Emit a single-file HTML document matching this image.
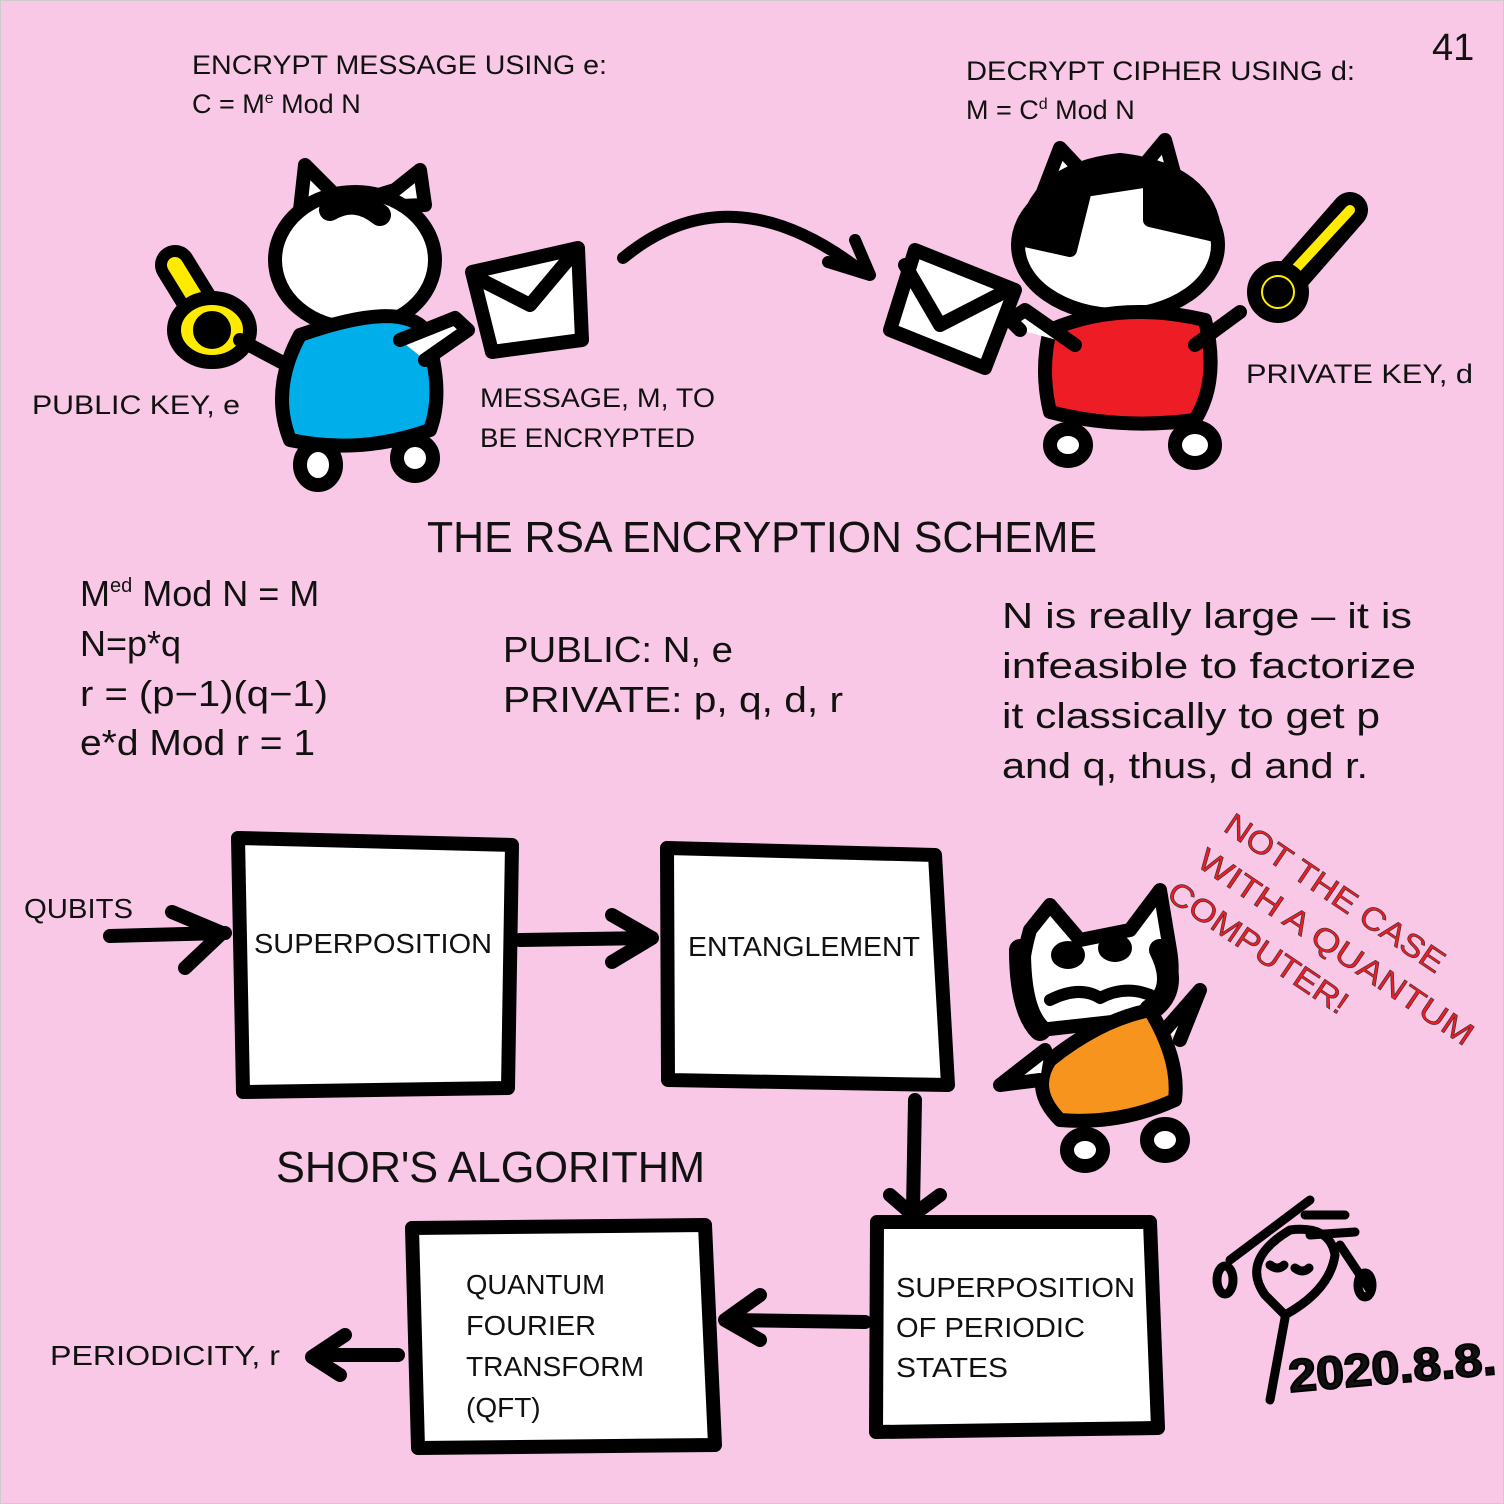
<!DOCTYPE html>
<html><head><meta charset="utf-8"><style>
html,body{margin:0;padding:0;background:#f8c8e6}
svg{display:block}
text{font-family:"Liberation Sans",sans-serif;fill:#111}
</style></head><body>
<svg width="1504" height="1504" viewBox="0 0 1504 1504" xmlns="http://www.w3.org/2000/svg">
<rect x="0" y="0" width="1504" height="1504" fill="#f8c8e6" stroke="#ccc" stroke-width="2"/>
<text x="1432" y="60" font-size="38">41</text>

<text x="192" y="74" font-size="27" textLength="415" lengthAdjust="spacingAndGlyphs">ENCRYPT MESSAGE USING e:</text>
<text x="192" y="113" font-size="27">C = M<tspan font-size="16" dy="-10">e</tspan><tspan dy="10"> Mod N</tspan></text>
<text x="966" y="80" font-size="27" textLength="389" lengthAdjust="spacingAndGlyphs">DECRYPT CIPHER USING d:</text>
<text x="966" y="119" font-size="27">M = C<tspan font-size="16" dy="-10">d</tspan><tspan dy="10"> Mod N</tspan></text>
<text x="32" y="414" font-size="27" textLength="208" lengthAdjust="spacingAndGlyphs">PUBLIC KEY, e</text>
<text x="480" y="407" font-size="27" textLength="235" lengthAdjust="spacingAndGlyphs">MESSAGE, M, TO</text>
<text x="480" y="447" font-size="27" textLength="215" lengthAdjust="spacingAndGlyphs">BE ENCRYPTED</text>
<text x="1246" y="383" font-size="27" textLength="227" lengthAdjust="spacingAndGlyphs">PRIVATE KEY, d</text>

<g stroke="#000" stroke-width="14" stroke-linecap="round" stroke-linejoin="round">
<path d="M175 265 L215 330" stroke-width="40"/>
<path d="M175 265 L215 330" stroke="#ffeb00" stroke-width="16"/>
<ellipse cx="212" cy="330" rx="38" ry="32" fill="#ffeb00"/>
<circle cx="212" cy="330" r="12" fill="#000"/>
<path d="M240 340 L300 372" />
<path d="M300 210 L305 165 L345 205 L395 190 L420 170 L425 205 Z" fill="#fff"/>
<ellipse cx="355" cy="260" rx="80" ry="68" fill="#fff"/>
<path d="M330 210 Q355 195 380 215" stroke-width="22"/>
<path d="M300 335 Q400 300 425 330 Q445 390 430 430 Q360 455 290 440 Q270 390 300 335 Z" fill="#00aeea"/>
<path d="M400 340 L455 318 L468 330 L425 360" fill="#fff"/>
<ellipse cx="318" cy="465" rx="18" ry="20" fill="#fff"/>
<ellipse cx="415" cy="458" rx="18" ry="18" fill="#fff"/>
<path d="M472 272 L578 248 L582 340 L492 352 Z" fill="#fff"/>
<path d="M485 282 L530 305 L572 255" fill="none"/>
<path d="M623 258 Q730 170 860 270" fill="none" stroke-width="12"/>
<path d="M828 262 L870 275 L855 240" fill="none" stroke-width="12"/>
<path d="M890 330 L915 250 L1015 290 L985 368 Z" fill="#fff"/>
<path d="M905 265 L940 325 L1008 290" fill="none"/>
<path d="M1040 200 L1060 148 L1090 180 L1140 170 L1165 140 L1180 195 Z" fill="#fff"/>
<ellipse cx="1118" cy="245" rx="100" ry="70" fill="#fff"/>
<path d="M1025 240 Q1030 170 1120 160 Q1210 170 1215 235 L1150 220 L1150 180 L1085 190 L1070 250 Z" fill="#000"/>
<path d="M1050 330 Q1120 300 1205 320 Q1220 380 1195 420 Q1120 430 1050 412 Q1040 370 1050 330 Z" fill="#ee1c24"/>
<path d="M1020 330 L1010 320 L1025 310 L1075 345" fill="#fff"/>
<path d="M1195 345 L1240 312" />
<ellipse cx="1068" cy="445" rx="18" ry="16" fill="#fff"/>
<ellipse cx="1195" cy="445" rx="20" ry="18" fill="#fff"/>
<path d="M1280 290 L1350 210" stroke-width="36"/>
<path d="M1290 275 L1350 210" stroke="#ffeb00" stroke-width="10"/>
<circle cx="1278" cy="292" r="24" fill="#ffeb00"/>
<circle cx="1278" cy="292" r="8" fill="#000"/>
</g>

<text x="427" y="552" font-size="44" textLength="670" lengthAdjust="spacingAndGlyphs">THE RSA ENCRYPTION SCHEME</text>
<g font-size="36">
<text x="80" y="606">M<tspan font-size="20" dy="-14">ed</tspan><tspan dy="14"> Mod N = M</tspan></text>
<text x="80" y="656">N=p*q</text>
<text x="80" y="706" textLength="248" lengthAdjust="spacingAndGlyphs">r = (p−1)(q−1)</text>
<text x="80" y="755" textLength="235" lengthAdjust="spacingAndGlyphs">e*d Mod r = 1</text>
<text x="503" y="662" textLength="230" lengthAdjust="spacingAndGlyphs">PUBLIC: N, e</text>
<text x="503" y="712" textLength="340" lengthAdjust="spacingAndGlyphs">PRIVATE: p, q, d, r</text>
<text x="1002" y="628" textLength="410" lengthAdjust="spacingAndGlyphs">N is really large –  it is</text>
<text x="1002" y="678" textLength="414" lengthAdjust="spacingAndGlyphs">infeasible to factorize</text>
<text x="1002" y="728" textLength="378" lengthAdjust="spacingAndGlyphs">it classically to get p</text>
<text x="1002" y="778" textLength="366" lengthAdjust="spacingAndGlyphs">and q, thus, d and r.</text>
</g>

<g font-size="32" stroke="#333" stroke-width="0.6">
<text x="1222" y="830" transform="rotate(34 1222 830)" style="fill:#ee1c24" textLength="258" lengthAdjust="spacingAndGlyphs">NOT THE CASE</text>
<text x="1195" y="865" transform="rotate(34 1195 865)" style="fill:#ee1c24" textLength="325" lengthAdjust="spacingAndGlyphs">WITH A QUANTUM</text>
<text x="1165" y="898" transform="rotate(34 1165 898)" style="fill:#ee1c24" textLength="210" lengthAdjust="spacingAndGlyphs">COMPUTER!</text>
</g>

<g stroke="#000" stroke-width="14" stroke-linecap="round" stroke-linejoin="round" fill="none">
<path d="M238 838 L512 845 L508 1088 L243 1092 Z" fill="#fff"/>
<path d="M667 848 L935 855 L948 1085 L668 1080 Z" fill="#fff"/>
<path d="M877 1222 L1150 1222 L1158 1428 L876 1432 Z" fill="#fff"/>
<path d="M412 1228 L705 1225 L715 1445 L418 1448 Z" fill="#fff"/>
<path d="M110 936 L225 933"/><path d="M172 912 L222 933 L185 968"/>
<path d="M520 940 L650 938"/><path d="M612 915 L652 938 L612 962"/>
<path d="M915 1100 L913 1210"/><path d="M890 1195 L913 1215 L940 1195"/>
<path d="M865 1322 L728 1320"/><path d="M760 1295 L725 1320 L760 1340"/>
<path d="M398 1355 L318 1355"/><path d="M345 1335 L312 1357 L340 1375"/>
</g>
<g font-size="28">
<text x="24" y="918" textLength="109" lengthAdjust="spacingAndGlyphs">QUBITS</text>
<text x="254" y="953" textLength="238" lengthAdjust="spacingAndGlyphs">SUPERPOSITION</text>
<text x="688" y="956" textLength="232" lengthAdjust="spacingAndGlyphs">ENTANGLEMENT</text>
<text x="896" y="1297" textLength="239" lengthAdjust="spacingAndGlyphs">SUPERPOSITION</text>
<text x="896" y="1337" textLength="189" lengthAdjust="spacingAndGlyphs">OF PERIODIC</text>
<text x="896" y="1377" textLength="112" lengthAdjust="spacingAndGlyphs">STATES</text>
<text x="466" y="1294" textLength="139" lengthAdjust="spacingAndGlyphs">QUANTUM</text>
<text x="466" y="1335" textLength="130" lengthAdjust="spacingAndGlyphs">FOURIER</text>
<text x="466" y="1376" textLength="178" lengthAdjust="spacingAndGlyphs">TRANSFORM</text>
<text x="466" y="1417">(QFT)</text>
<text x="50" y="1365" textLength="230" lengthAdjust="spacingAndGlyphs">PERIODICITY, r</text>
</g>
<text x="276" y="1182" font-size="44" textLength="429" lengthAdjust="spacingAndGlyphs">SHOR'S ALGORITHM</text>

<g stroke="#000" stroke-width="14" stroke-linecap="round" stroke-linejoin="round">
<path d="M1030 930 L1050 905 L1080 940 L1130 930 L1160 890 L1170 950 Q1180 1010 1130 1020 L1040 1030 Q1010 1000 1030 930 Z" fill="#fff"/>
<path d="M1020 950 Q1020 1010 1040 1030" fill="none" stroke-width="22"/>
<path d="M1160 950 Q1180 990 1150 1010" fill="none" stroke-width="22"/>
<ellipse cx="1068" cy="955" rx="10" ry="7" fill="#000"/>
<ellipse cx="1115" cy="948" rx="10" ry="7" fill="#000"/>
<path d="M1050 1000 Q1080 985 1100 998 Q1125 985 1150 995" fill="none" stroke-width="12"/>
<path d="M1050 1060 Q1100 1020 1150 1010 Q1180 1060 1175 1100 Q1120 1125 1060 1120 Q1030 1090 1050 1060 Z" fill="#f7941d"/>
<path d="M1045 1050 L1000 1085 L1040 1080" fill="#fff"/>
<path d="M1165 1030 L1200 990 L1180 1040" fill="#fff"/>
<ellipse cx="1085" cy="1150" rx="18" ry="16" fill="#fff"/>
<ellipse cx="1165" cy="1140" rx="18" ry="16" fill="#fff"/>
</g>
<g stroke="#000" stroke-width="9" stroke-linecap="round" fill="none">
<path d="M1230 1260 L1310 1200"/>
<path d="M1290 1230 Q1240 1260 1265 1295 L1285 1315 Q1330 1290 1335 1255 Q1330 1225 1290 1230"/>
<path d="M1270 1265 q8 6 14 0 M1295 1268 q8 6 14 0"/>
<path d="M1285 1318 L1270 1400"/>
<path d="M1305 1215 L1345 1215 M1310 1235 L1355 1232 M1340 1245 L1370 1290"/>
<ellipse cx="1225" cy="1280" rx="8" ry="14"/><ellipse cx="1365" cy="1285" rx="7" ry="12"/>
</g>
<text x="1290" y="1392" font-size="46" font-weight="bold" stroke="#000" stroke-width="2" transform="rotate(-5 1290 1392)" textLength="208" lengthAdjust="spacingAndGlyphs">2020.8.8.</text>
</svg>
</body></html>
